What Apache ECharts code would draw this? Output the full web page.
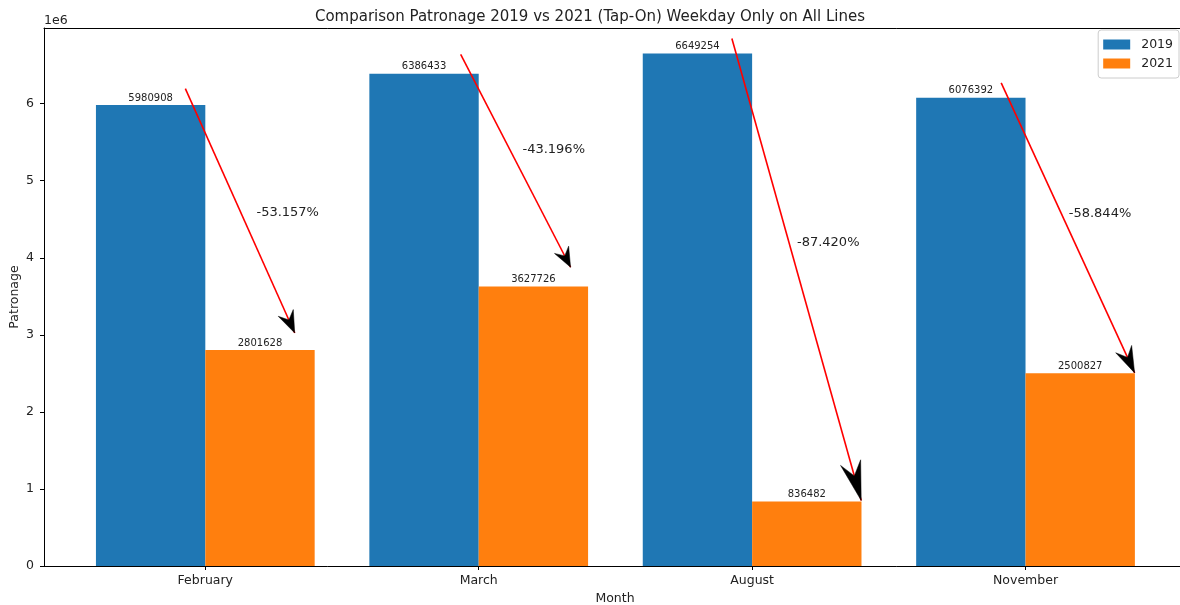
<!DOCTYPE html>
<html>
<head>
<meta charset="utf-8">
<script src="https://cdn.jsdelivr.net/npm/echarts@6/dist/echarts.min.js"></script>
<style>
  html, body { margin: 0; padding: 0; background: #fff; }
  #chart { width: 1180px; height: 605px; }
</style>
</head>
<body>
<div id="chart"></div>
<script>
// ---- data ----
const months = ['February', 'March', 'August', 'November'];
const patronage2019 = [5980908, 6386433, 6649254, 6076392];
const patronage2021 = [2801628, 3627726, 836482, 2500827];
const yTickValues = [0, 1, 2, 3, 4, 5, 6];

// ---- annotation anchors (data coordinates: [category offset, patronage]) ----
const arrowStart = [[-0.073, 6.195e6], [-0.066, 6.64e6], [-0.074, 6.845e6], [-0.089, 6.27e6]];
const arrowEnd   = [[0.327, 3.024e6], [0.336, 3.877e6], [0.399, 0.85e6], [0.399, 2.506e6]];
const pctLabelPos = [[0.187, 4.587e6], [0.160, 5.406e6], [0.164, 4.201e6], [0.158, 4.574e6]];

const FONT = 'DejaVu Sans';
const TXT = '#222';
const C19 = '#1f77b4';
const C21 = '#ff7f0e';

const yMax = Math.max(...patronage2019, ...patronage2021) * 1.05;
// matplotlib x-limits: bars span [-0.4, 3.4] plus 5% margins; the right part is cropped in the picture
const xMin = -0.59;
const xMaxVisible = 3.565;

function barRender(off0, off1) {
  return function (params, api) {
    const x = api.value(0), v = api.value(1);
    const pTop = api.coord([x + off0, v]);
    const pBot = api.coord([x + off1, 0]);
    const cx = (pTop[0] + pBot[0]) / 2;
    return {
      type: 'group',
      children: [
        { type: 'rect', shape: { x: pTop[0], y: pTop[1], width: pBot[0] - pTop[0], height: pBot[1] - pTop[1] },
          style: { fill: api.visual('color') } },
        { type: 'text', x: cx, y: pTop[1] - 2,
          style: { text: String(v), fill: TXT, font: '10px "' + FONT + '"', align: 'center', verticalAlign: 'bottom' } }
      ]
    };
  };
}

const bars19 = months.map((m, i) => [i, patronage2019[i]]);
const bars21 = months.map((m, i) => [i, patronage2021[i]]);
const arrows = months.map((m, i) => {
  const pct = (patronage2021[i] - patronage2019[i]) / patronage2019[i] * 100;
  return [i + arrowStart[i][0], arrowStart[i][1], i + arrowEnd[i][0], arrowEnd[i][1],
          i + pctLabelPos[i][0], pctLabelPos[i][1], pct];
});

function arrowRender(params, api) {
  const a = api.coord([api.value(0), api.value(1)]);
  const b = api.coord([api.value(2), api.value(3)]);
  const t = api.coord([api.value(4), api.value(5)]);
  const pct = api.value(6);
  const dx = b[0] - a[0], dy = b[1] - a[1];
  const len = Math.sqrt(dx * dx + dy * dy);
  const ux = dx / len, uy = dy / len;
  const px = -uy, py = ux;
  const hl = 0.082 * len;
  const hw = (11 + 0.25 * hl) / 2;
  const bx = b[0] - ux * hl, by = b[1] - uy * hl;
  const nx = b[0] - ux * hl * 0.65, ny = b[1] - uy * hl * 0.65;
  return {
    type: 'group',
    children: [
      { type: 'line', shape: { x1: a[0], y1: a[1], x2: b[0], y2: b[1] },
        style: { stroke: '#ff0000', lineWidth: 1.6 } },
      { type: 'polygon',
        shape: { points: [[b[0], b[1]], [bx + px * hw, by + py * hw], [nx, ny], [bx - px * hw, by - py * hw]] },
        style: { fill: '#000', stroke: '#000', lineWidth: 0.5 } },
      { type: 'text', x: t[0], y: t[1],
        style: { text: pct.toFixed(3) + '%', fill: TXT, font: '13px "' + FONT + '"', align: 'left', verticalAlign: 'middle' } }
    ]
  };
}

const chart = echarts.init(document.getElementById('chart'), null, { renderer: 'canvas' });
chart.setOption({
  animation: false,
  backgroundColor: '#fff',
  textStyle: { fontFamily: FONT },
  title: {
    text: 'Comparison Patronage 2019 vs 2021 (Tap-On) Weekday Only on All Lines',
    left: 'center', top: 5,
    textStyle: { fontFamily: FONT, fontSize: 15, fontWeight: 'normal', color: TXT }
  },
  legend: {
    orient: 'vertical', right: 1, top: 30,
    data: [
      { name: '2019', icon: 'rect', itemStyle: { color: C19 } },
      { name: '2021', icon: 'rect', itemStyle: { color: C21 } }
    ],
    itemWidth: 27, itemHeight: 10, itemGap: 6,
    padding: [8, 6, 8, 5],
    borderColor: '#cccccc', borderWidth: 1, borderRadius: 3,
    backgroundColor: 'rgba(255,255,255,0.8)',
    textStyle: { fontFamily: FONT, fontSize: 12.5, color: TXT, padding: [0, 0, 0, 6] }
  },
  grid: { left: 44, top: 28, right: 0, height: 538, show: false },
  xAxis: [{
    type: 'value', min: xMin, max: xMaxVisible,
    splitLine: { show: false },
    axisLine: { show: true, onZero: false, lineStyle: { color: '#000', width: 1 } },
    axisTick: { show: true, customValues: [0, 1, 2, 3], length: 4, lineStyle: { color: '#000' } },
    axisLabel: { customValues: [0, 1, 2, 3], formatter: v => months[Math.round(v)], margin: 8,
                 fontFamily: FONT, fontSize: 12.5, color: TXT }
  }, {
    type: 'value', position: 'top', min: xMin, max: xMaxVisible,
    splitLine: { show: false },
    axisLine: { show: true, onZero: false, lineStyle: { color: '#000', width: 1 } },
    axisTick: { show: false }, axisLabel: { show: false }
  }],
  yAxis: {
    type: 'value', min: 0, max: yMax, interval: 1e6,
    splitLine: { show: false },
    axisLine: { show: true, onZero: false, lineStyle: { color: '#000', width: 1 } },
    axisTick: { show: true, length: 4, lineStyle: { color: '#000' },
                customValues: yTickValues.map(v => v * 1e6) },
    axisLabel: { customValues: yTickValues.map(v => v * 1e6), formatter: v => String(Math.round(v / 1e6)),
                 margin: 10, fontFamily: FONT, fontSize: 12.5, color: TXT }
  },
  graphic: [
    { type: 'text', left: 44, top: 14, style: { text: '1e6', font: '12.5px "' + FONT + '"', fill: TXT } },
    { type: 'text', x: 15, y: 297, rotation: Math.PI / 2,
      style: { text: 'Patronage', font: '12.5px "' + FONT + '"', fill: TXT, align: 'center', verticalAlign: 'middle' } },
    { type: 'text', x: 615, y: 599,
      style: { text: 'Month', font: '12.5px "' + FONT + '"', fill: TXT, align: 'center', verticalAlign: 'middle' } }
  ],
  series: [
    { name: '2019', type: 'custom', itemStyle: { color: C19 }, renderItem: barRender(-0.4, 0), data: bars19,
      encode: { x: 0, y: 1 }, z: 2 },
    { name: '2021', type: 'custom', itemStyle: { color: C21 }, renderItem: barRender(0, 0.4), data: bars21,
      encode: { x: 0, y: 1 }, z: 2 },
    { name: 'arrows', type: 'custom', renderItem: arrowRender, data: arrows,
      encode: { x: [0, 2, 4], y: [1, 3, 5] }, z: 5 }
  ]
});
</script>
</body>
</html>
